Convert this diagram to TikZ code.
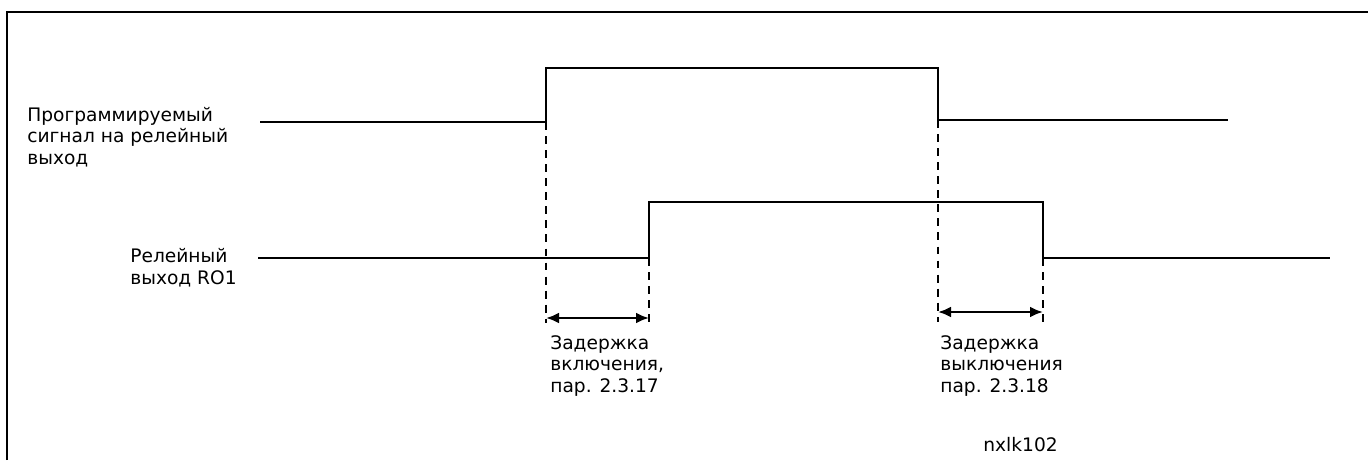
\documentclass[tikz,border=0pt]{standalone}
\usepackage{fontspec}
\setmainfont{DejaVu Sans}
\usetikzlibrary{arrows.meta}
\tikzset{
    signal/.style={line width=1.5pt}, % the two relay traces
    marker/.style={line width=1.1pt, dash pattern=on 4.5pt off 3.5pt}, % vertical time marks
    delay/.style={{Latex[length=2.6mm,width=2.2mm]}-{Latex[length=2.6mm,width=2.2mm]}, line width=1.5pt}, % delay spans
    caption/.style={anchor=base west, align=left, inner sep=0pt, font=\fontsize{10.6}{12}\selectfont},
}

\begin{document}
\begin{tikzpicture}[x=0.02cm, y=-0.02cm]
    \useasboundingbox (0,0) rectangle (1368,460);

    % Frame
    \coordinate (fbl) at (7,460);
    \coordinate (ftl) at (7,12);
    \coordinate (ftr) at (1368,12);
    \draw[line width=1.5pt] (fbl) -- (ftl) -- (ftr);

    % Programmed signal
    \coordinate (ps0) at (260,122);
    \coordinate (psa) at (546,122);
    \coordinate (psb) at (546,68);
    \coordinate (psc) at (938,68);
    \coordinate (psd) at (938,120);
    \coordinate (pse) at (1228,120);
    \draw[signal] (ps0) -- (psa) -- (psb) -- (psc) -- (psd) -- (pse);

    % Relay output
    \coordinate (ro0) at (258,258);
    \coordinate (roa) at (649,258);
    \coordinate (rob) at (649,202);
    \coordinate (roc) at (1043,202);
    \coordinate (rod) at (1043,258);
    \coordinate (roe) at (1330,258);
    \draw[signal] (ro0) -- (roa) -- (rob) -- (roc) -- (rod) -- (roe);

    % Time marks
    \coordinate (on1) at (546,318);
    \coordinate (on2) at (649,318);
    \coordinate (off1) at (938,312);
    \coordinate (off2) at (1043,312);
    \draw[marker] (psa) -- ([yshift=-0.1cm]on1);
    \draw[marker] (roa) -- ([yshift=-0.1cm]on2);
    \draw[marker] (psd) -- ([yshift=-0.2cm]off1);
    \draw[marker] (rod) -- ([yshift=-0.3cm]off2);

    % Delays
    \draw[delay] (on1) -- (on2);
    \draw[delay] (off1) -- (off2);

    % Labels
    \node[caption] (lblprog) at (27,164) {Программируемый\\сигнал на релейный\\выход};
    \node[caption] (lblrelay) at (130,284) {Релейный\\выход RO1};
    \node[caption] (lblon) at (550,392) {Задержка\\включения,\\пар. 2.3.17};
    \node[caption] (lbloff) at (940,392) {Задержка\\выключения\\пар. 2.3.18};
    \node[caption] (lblcode) at (983,451) {nxlk102};
\end{tikzpicture}
\end{document}
